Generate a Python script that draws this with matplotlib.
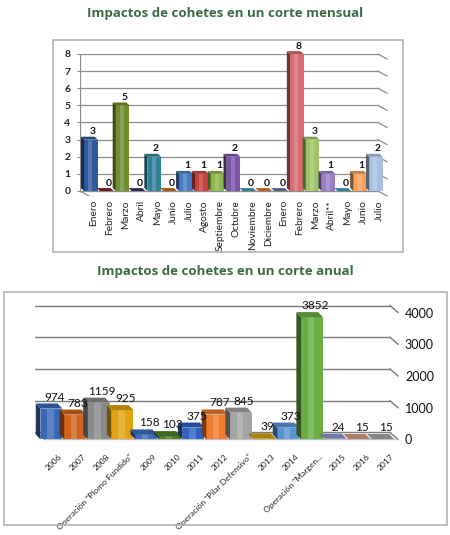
import matplotlib
matplotlib.use("Agg")
import matplotlib.pyplot as plt
from matplotlib.patches import Polygon, Rectangle
from matplotlib.colors import to_rgb
from matplotlib.transforms import ScaledTranslation

# datos mensuales
meses = ["Enero", "Febrero", "Marzo", "Abril", "Mayo", "Junio", "Julio", "Agosto",
         "Septiembre", "Octubre", "Noviembre", "Diciembre", "Enero", "Febrero",
         "Marzo", "Abril**", "Mayo", "Junio", "Julio"]
impactos_mes = [3, 0, 5, 0, 2, 0, 1, 1, 1, 2, 0, 0, 0, 8, 3, 1, 0, 1, 2]
colores_mes = ["#2f5a9e", "#8e2020", "#6f8f2e", "#453466", "#2e8197", "#d36a12",
               "#4a7cc4", "#c8423d", "#8db84a", "#7a55a8", "#3aa0b8", "#e07b2a",
               "#6b7b9e", "#d86c70", "#9cc466", "#9a7fc6", "#3aa0b8", "#f6a15c",
               "#a9c0e4"]

# datos anuales
anios = ["2006", "2007", "2008", "Operación \"Plomo Fundido\"", "2009", "2010", "2011",
         "2012", "Operación \"Pilar Defensivo\"", "2013", "2014", "Operación \"Margen...",
         "2015", "2016", "2017"]
impactos_anio = [974, 783, 1159, 925, 158, 103, 375, 787, 845, 39, 373, 3852, 24, 15, 15]
colores_anio = ["#3a68b8", "#d0641e", "#8a8a8a", "#e0a410", "#3a6fc0", "#4f7f2c",
                "#2f62c6", "#ee7a2e", "#a3a3a3", "#d7a417", "#5595d6", "#6cac44",
                "#8f98cf", "#d99a85", "#a6a6a6"]

verde = "#3b6b46"
letra = "Lato"
W, H = 450, 535


def oscuro(c, f):
    r, g, b = to_rgb(c)
    return (r * f, g * f, b * f)


def claro(c, f):
    r, g, b = to_rgb(c)
    return (r + (1 - r) * f, g + (1 - g) * f, b + (1 - b) * f)


def barras3d(ax, vals, cols, w, dx, dy):
    xs = range(len(vals))
    ax.bar(xs, vals, width=w, color=cols, edgecolor="none", zorder=3)
    for x, v, c in zip(xs, vals, cols):
        x0 = x - w / 2
        # brillo en el centro de la cara frontal
        ax.add_patch(Rectangle((x0 + w * 0.3, 0), w * 0.3, v, color=claro(c, 0.18),
                               lw=0, zorder=3.5))
        lado = [(x0, 0), (x0, v), (x0 - dx, v + dy), (x0 - dx, dy)]
        tapa = [(x0, v), (x0 + w, v), (x0 + w - dx, v + dy), (x0 - dx, v + dy)]
        ax.add_patch(Polygon(lado, closed=True, color=oscuro(c, 0.5), lw=0, zorder=4,
                             clip_on=False))
        ax.add_patch(Polygon(tapa, closed=True, color=oscuro(c, 0.8), lw=0, zorder=4,
                             clip_on=False))


fig = plt.figure(figsize=(W / 100, H / 100), dpi=100)
fig.patch.set_facecolor("white")

# ---------- corte mensual ----------
fig.text(225 / W, 1 - 14 / H, "Impactos de cohetes en un corte mensual", ha="center",
         va="center", fontsize=9.5, fontweight="bold", color=verde, family="Open Sans")
fig.patches.append(Rectangle((53 / W, 1 - 252 / H), 350 / W, 212 / H, transform=fig.transFigure,
                             fill=False, ec="#b4b4b4", lw=1.2))

ax1 = fig.add_axes([80 / W, 1 - 196 / H, 307 / W, 142 / H])
ppu = 15.83
ax1.set_xlim(-11 / ppu, len(meses) - 1 + 11 / ppu)
ax1.set_ylim(-5 / 17.1, 8)
x_fin = len(meses) - 1 + 2 / ppu
for g in range(0, 9):
    ax1.plot([ax1.get_xlim()[0], x_fin], [g, g], color="#8c8c8c", lw=0.9, zorder=1)
    ax1.plot([x_fin, ax1.get_xlim()[1]], [g, g - 0.29], color="#8c8c8c", lw=0.9, zorder=1,
             clip_on=False)
ax1.plot([ax1.get_xlim()[0], ax1.get_xlim()[0]], [0, 8], color="#8c8c8c", lw=0.9, zorder=1)
ax1.plot([ax1.get_xlim()[0], ax1.get_xlim()[0] + 0.56], [0, -0.29], color="#8c8c8c", lw=0.9)
ax1.plot([ax1.get_xlim()[0] + 0.56, ax1.get_xlim()[1]], [-0.29, -0.29], color="#b0b0b0", lw=0.9)
barras3d(ax1, impactos_mes, colores_mes, 0.86, 0.2, 0.17)
for i, v in enumerate(impactos_mes):
    ax1.text(i + 0.1, v + 0.2, str(v), ha="center", va="bottom", fontsize=7.5,
             fontweight="bold", color="#111111", zorder=6, clip_on=False, family=letra)
for s in ax1.spines.values():
    s.set_visible(False)
ax1.set_yticks(range(0, 9))
ax1.set_yticklabels([str(t) for t in range(0, 9)], fontsize=7.5, fontweight="bold",
                    color="#222222", family=letra)
ax1.tick_params(axis="y", length=2, pad=5, color="#8c8c8c")
ax1.set_xticks(range(len(meses)))
ax1.set_xticklabels(meses, rotation=90, fontsize=7.3, color="#222222", ha="center", va="top",
                    family=letra)
ax1.tick_params(axis="x", length=0, pad=3)
for t in ax1.get_xticklabels():
    t.set_transform(t.get_transform() + ScaledTranslation(3 / 100, 0, fig.dpi_scale_trans))
ax1.set_facecolor("none")

# ---------- corte anual ----------
fig.text(225 / W, 1 - 272 / H, "Impactos de cohetes en un corte anual", ha="center",
         va="center", fontsize=9.5, fontweight="bold", color=verde, family="Open Sans")
fig.patches.append(Rectangle((4 / W, 1 - 525 / H), 443 / W, 233 / H, transform=fig.transFigure,
                             fill=False, ec="#b4b4b4", lw=1.2))

ppu2 = 23.8
pxv = 0.03175
ax2 = fig.add_axes([35 / W, 1 - 447.4 / H, 363 / W, 147.6 / H])
x_ini2 = -16.5 / ppu2
x_fin2 = len(anios) - 1 + 15 / ppu2
ax2.set_xlim(x_ini2, x_fin2)
ax2.set_ylim(-7.9 / pxv, 139.7 / pxv)
off_y = 7 / pxv
off_x = 8 / ppu2
for g in range(0, 4001, 1000):
    ax2.plot([x_ini2, x_fin2 - off_x], [g + off_y, g + off_y], color="#7a7a7a", lw=1.0, zorder=1)
    ax2.plot([x_fin2 - off_x, x_fin2], [g + off_y, g], color="#7a7a7a", lw=1.0, zorder=1,
             clip_on=False)
ax2.plot([x_ini2, x_ini2 + 10 / ppu2], [off_y, 0], color="#7a7a7a", lw=1.0, zorder=1)
ax2.plot([x_ini2 + 10 / ppu2, x_fin2], [0, 0], color="#c0c0c0", lw=0.9, zorder=1)
barras3d(ax2, impactos_anio, colores_anio, 0.92, 0.2, 160)
for i, v in enumerate(impactos_anio):
    ax2.text(i + 0.12, v + 190, str(v), ha="center", va="bottom", fontsize=8.5,
             color="#111111", zorder=6, clip_on=False, family=letra)
for s in ax2.spines.values():
    s.set_visible(False)
ax2.yaxis.tick_right()
ax2.set_yticks(range(0, 4001, 1000))
ax2.set_yticklabels([str(t) for t in range(0, 4001, 1000)], fontsize=9, color="#111111",
                    family=letra)
ax2.tick_params(axis="y", length=0, pad=5)
ax2.set_xticks(range(len(anios)))
ax2.set_xticklabels(anios, rotation=45, fontsize=6.1, color="#222222", ha="right",
                    va="top", rotation_mode="anchor", family=letra)
ax2.tick_params(axis="x", length=0, pad=4)
for t in ax2.get_xticklabels():
    t.set_transform(t.get_transform() + ScaledTranslation(7 / 100, 0, fig.dpi_scale_trans))
ax2.set_facecolor("none")

fig.savefig("out.png", dpi=100, facecolor="white")
